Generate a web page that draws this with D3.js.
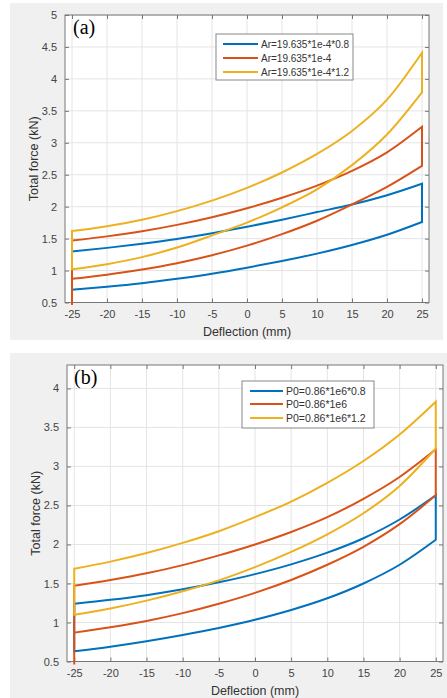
<!DOCTYPE html>
<html><head><meta charset="utf-8">
<script src="https://cdn.jsdelivr.net/npm/d3@7"></script>
<style>
html,body{margin:0;padding:0;background:#fff;}
svg{display:block;font-family:"Liberation Sans",Arial,sans-serif;}
</style></head>
<body>
<svg id="c" width="447" height="698"></svg>
<script>
// ---------- DATA ----------
const deflection = [-25,-20,-15,-10,-5,0,5,10,15,20,25];
const xTicks = [-25,-20,-15,-10,-5,0,5,10,15,20,25];
const yTicksA = [0.5,1,1.5,2,2.5,3,3.5,4,4.5,5];
const yTicksB = [0.5,1,1.5,2,2.5,3,3.5,4];

const legendA = ["Ar=19.635*1e-4*0.8","Ar=19.635*1e-4","Ar=19.635*1e-4*1.2"];
const legendB = ["P0=0.86*1e6*0.8","P0=0.86*1e6","P0=0.86*1e6*1.2"];

// chart (a): lower (loading) and upper (unloading) branches, kN
const aBlueLower   = [0.70,0.745,0.80,0.87,0.95,1.045,1.15,1.265,1.40,1.56,1.76];
const aBlueUpper   = [1.30,1.355,1.42,1.495,1.585,1.685,1.795,1.915,2.035,2.18,2.36];
const aRedLower    = [0.87,0.935,1.015,1.115,1.24,1.39,1.57,1.78,2.035,2.31,2.64];
const aRedUpper    = [1.47,1.535,1.615,1.715,1.835,1.975,2.14,2.33,2.56,2.85,3.25];
const aYellowLower = [1.02,1.10,1.21,1.36,1.55,1.75,1.99,2.27,2.65,3.13,3.79];
const aYellowUpper = [1.62,1.695,1.795,1.93,2.095,2.295,2.535,2.825,3.185,3.675,4.41];

// chart (b)
const bBlueLower   = [0.63,0.69,0.76,0.84,0.93,1.035,1.16,1.31,1.50,1.74,2.06];
const bBlueUpper   = [1.24,1.29,1.35,1.425,1.515,1.62,1.745,1.895,2.08,2.32,2.63];
const bRedLower    = [0.87,0.94,1.02,1.12,1.24,1.38,1.545,1.74,1.97,2.26,2.63];
const bRedUpper    = [1.47,1.545,1.63,1.735,1.86,2.00,2.16,2.35,2.585,2.865,3.22];
const bYellowLower = [1.10,1.18,1.28,1.40,1.54,1.71,1.905,2.13,2.40,2.75,3.23];
const bYellowUpper = [1.69,1.78,1.89,2.02,2.17,2.35,2.55,2.79,3.07,3.41,3.83];

// initial loading segment of the 2nd series at x=-25 (starts below the axis)
const redStart = 0.46;

const colors = ["#0072BD","#D95319","#EDB120"];

// ---------- DRAW ----------
const svg = d3.select("#c");

function panel(cfg){
  const g = svg.append("g");
  g.append("rect").attr("x",cfg.bg[0]).attr("y",cfg.bg[1])
    .attr("width",cfg.bg[2]-cfg.bg[0]).attr("height",cfg.bg[3]-cfg.bg[1])
    .attr("fill","#f0f0f0");
  const [L,T,R,B] = cfg.plot;
  g.append("rect").attr("x",L).attr("y",T).attr("width",R-L).attr("height",B-T).attr("fill","#fff");
  const x = d3.scaleLinear().domain([-26,26]).range([L,R]);
  const y = d3.scaleLinear().domain(cfg.ydom).range([B,T]);

  // grid
  g.append("g").selectAll("line").data(xTicks).join("line")
    .attr("x1",d=>x(d)).attr("x2",d=>x(d)).attr("y1",T).attr("y2",B)
    .attr("stroke","#e4e4e4").attr("stroke-width",1);
  g.append("g").selectAll("line").data(cfg.yTicks).join("line")
    .attr("y1",d=>y(d)).attr("y2",d=>y(d)).attr("x1",L).attr("x2",R)
    .attr("stroke","#e4e4e4").attr("stroke-width",1);

  // axes (ticks inward, box)
  const ax = (gen, tr) => g.append("g").attr("transform",tr).call(gen);
  const style = sel => {
    sel.select(".domain").remove();
    sel.selectAll(".tick line").attr("stroke","#777");
    sel.selectAll(".tick text").attr("fill","#444").style("font-size",cfg.tickFont+"px")
      .style("font-family","'Liberation Sans',Arial,sans-serif");
  };
  const xb = ax(d3.axisBottom(x).tickValues(xTicks).tickSizeInner(-4).tickSizeOuter(0).tickPadding(8).tickFormat(d=>String(d)), `translate(0,${B})`);
  style(xb);
  const xt = ax(d3.axisTop(x).tickValues(xTicks).tickSizeInner(-4).tickSizeOuter(0).tickFormat(""), `translate(0,${T})`);
  style(xt);
  const yl = ax(d3.axisLeft(y).tickValues(cfg.yTicks).tickSizeInner(-4).tickSizeOuter(0).tickPadding(8).tickFormat(d=>String(d)), `translate(${L},0)`);
  style(yl);
  const yr = ax(d3.axisRight(y).tickValues(cfg.yTicks).tickSizeInner(-4).tickSizeOuter(0).tickFormat(""), `translate(${R},0)`);
  style(yr);
  g.append("rect").attr("x",L).attr("y",T).attr("width",R-L).attr("height",B-T)
    .attr("fill","none").attr("stroke","#777").attr("stroke-width",1);

  // series
  const line = d3.line().x(d=>x(d[0])).y(d=>y(d[1])).curve(d3.curveMonotoneX);
  const straight = d3.line().x(d=>x(d[0])).y(d=>y(d[1]));
  cfg.series.forEach((s,i)=>{
    const low = deflection.map((d,k)=>[d,s.lower[k]]);
    const up = deflection.map((d,k)=>[d,s.upper[k]]).reverse();
    let p = line(low) + line(up).replace(/^M/,"L") + "Z";
    if (s.start != null) p += straight([[deflection[0], s.lower[0]],[deflection[0], s.start]]);
    g.append("path").attr("d",p).attr("fill","none").attr("stroke",colors[i])
      .attr("stroke-width",2).attr("stroke-linejoin","miter");
  });

  // axis labels
  g.append("text").attr("x",(L+R)/2).attr("y",cfg.xLabelY).attr("text-anchor","middle")
    .attr("fill","#333").style("font-size","12.5px").text("Deflection (mm)");
  g.append("text").attr("transform",`translate(${cfg.yLabelX},${(T+B)/2}) rotate(-90)`)
    .attr("text-anchor","middle").attr("fill","#333").style("font-size","12.5px").text("Total force (kN)");

  // panel tag
  g.append("text").attr("x",cfg.tag[0]).attr("y",cfg.tag[1])
    .style("font-family","'Liberation Serif','Times New Roman',serif").style("font-size","20px")
    .attr("fill","#000").text(cfg.tagText);

  // legend
  const lg = cfg.legend;
  g.append("rect").attr("x",lg.box[0]).attr("y",lg.box[1]).attr("width",lg.box[2]-lg.box[0])
    .attr("height",lg.box[3]-lg.box[1]).attr("fill","#fff").attr("stroke","#888").attr("stroke-width",1);
  cfg.labels.forEach((t,i)=>{
    const yy = lg.rows[i];
    g.append("line").attr("x1",lg.line[0]).attr("x2",lg.line[1]).attr("y1",yy).attr("y2",yy)
      .attr("stroke",colors[i]).attr("stroke-width",2);
    g.append("text").attr("x",lg.text).attr("y",yy+3.6).attr("fill","#333")
      .style("font-size",lg.font+"px").text(t);
  });
}

panel({
  bg:[10,3,443,340], plot:[65,15,429,302.5], ydom:[0.5,5], yTicks:yTicksA, tickFont:11,
  xLabelY:336, yLabelX:38, tag:[73,34], tagText:"(a)", labels:legendA,
  legend:{box:[216,34,353,80], line:[223,258], text:261, rows:[44,58,72], font:10},
  series:[
    {lower:aBlueLower, upper:aBlueUpper},
    {lower:aRedLower, upper:aRedUpper, start:redStart},
    {lower:aYellowLower, upper:aYellowUpper}
  ]
});
panel({
  bg:[10,353,447,698], plot:[67,365,443,661.5], ydom:[0.5,4.3], yTicks:yTicksB, tickFont:11,
  xLabelY:695, yLabelX:40, tag:[74,384], tagText:"(b)", labels:legendB,
  legend:{box:[242,381,374,428], line:[250,283], text:286, rows:[391,404,418], font:10.5},
  series:[
    {lower:bBlueLower, upper:bBlueUpper},
    {lower:bRedLower, upper:bRedUpper, start:redStart},
    {lower:bYellowLower, upper:bYellowUpper}
  ]
});
</script>
</body></html>
